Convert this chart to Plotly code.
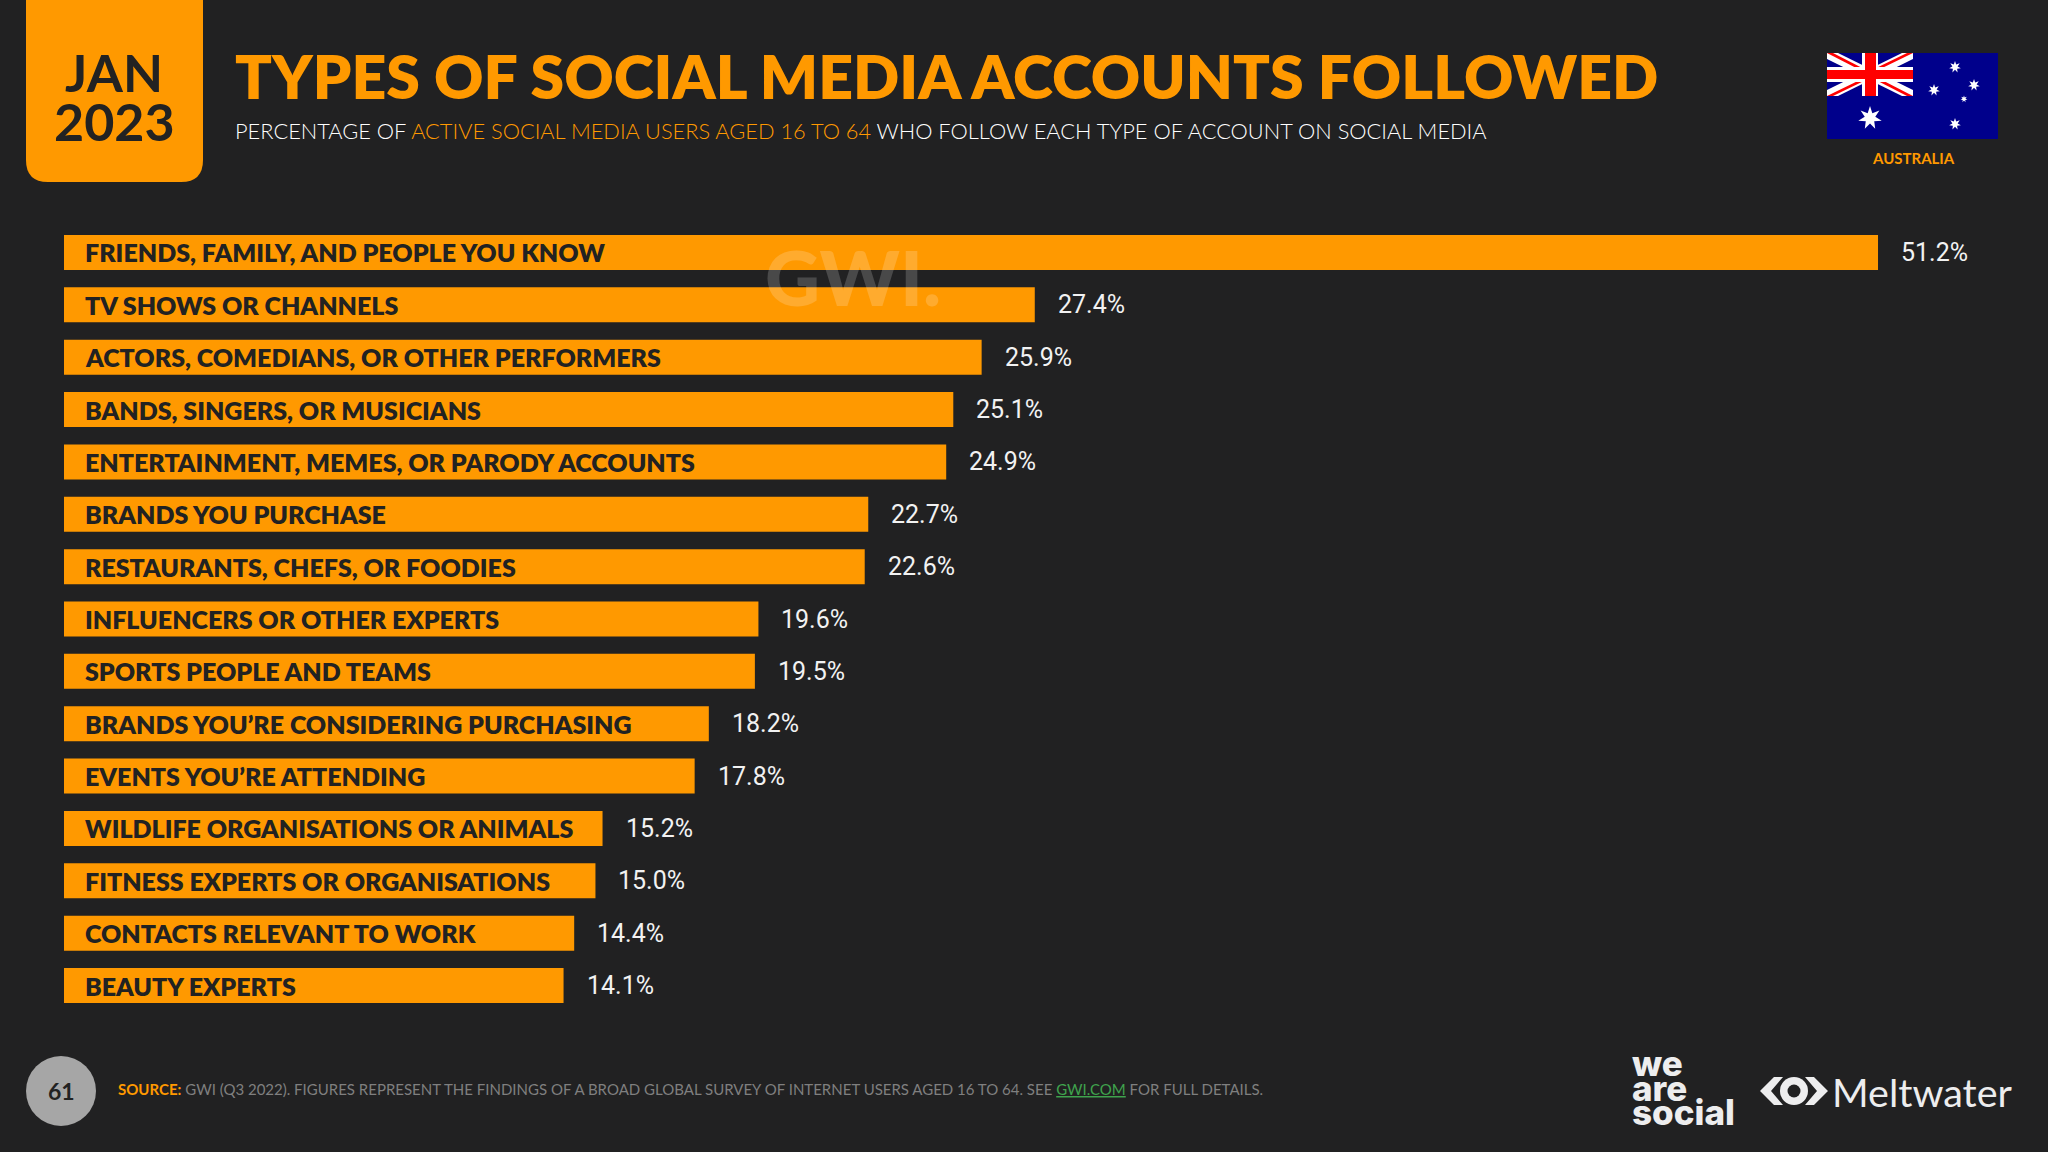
import math
import plotly.graph_objects as go

W = 2048
H = 1152

categories = [
    "FRIENDS, FAMILY, AND PEOPLE YOU KNOW",
    "TV SHOWS OR CHANNELS",
    "ACTORS, COMEDIANS, OR OTHER PERFORMERS",
    "BANDS, SINGERS, OR MUSICIANS",
    "ENTERTAINMENT, MEMES, OR PARODY ACCOUNTS",
    "BRANDS YOU PURCHASE",
    "RESTAURANTS, CHEFS, OR FOODIES",
    "INFLUENCERS OR OTHER EXPERTS",
    "SPORTS PEOPLE AND TEAMS",
    "BRANDS YOU’RE CONSIDERING PURCHASING",
    "EVENTS YOU’RE ATTENDING",
    "WILDLIFE ORGANISATIONS OR ANIMALS",
    "FITNESS EXPERTS OR ORGANISATIONS",
    "CONTACTS RELEVANT TO WORK",
    "BEAUTY EXPERTS",
]
values = [51.2, 27.4, 25.9, 25.1, 24.9, 22.7, 22.6, 19.6, 19.5, 18.2, 17.8, 15.2, 15.0, 14.4, 14.1]

BG = "#212122"
ORANGE = "#FF9900"
DARK = "#222222"
FONT = "Lato"


# pixel position on the page -> paper coordinates
def px(x):
    return x / W


def py(y):
    return 1 - y / H


def note(x, y, text, size, color="#FFFFFF", weight=400, anchor="left", family=FONT):
    return dict(
        xref="paper", yref="paper", x=px(x), y=py(y), text=text, showarrow=False,
        xanchor=anchor, yanchor="middle", borderpad=0,
        font=dict(family=family, size=size, color=color, weight=weight),
    )


def rect(x0, y0, x1, y1, color):
    return dict(type="rect", xref="paper", yref="paper", x0=px(x0), y0=py(y0), x1=px(x1), y1=py(y1),
                fillcolor=color, line=dict(width=0), layer="above")


def poly(points, color):
    path = "M " + " L ".join(f"{px(x):.5f},{py(y):.5f}" for x, y in points) + " Z"
    return dict(type="path", xref="paper", yref="paper", path=path, fillcolor=color,
                line=dict(width=0), layer="above")


def circle(cx, cy, r, color):
    return dict(type="circle", xref="paper", yref="paper", x0=px(cx - r), y0=py(cy - r),
                x1=px(cx + r), y1=py(cy + r), fillcolor=color, line=dict(width=0), layer="above")


def star(cx, cy, r, color="#FFFFFF"):
    pts = []
    for i in range(14):
        a = math.pi * i / 7 - math.pi / 2
        rr = r if i % 2 == 0 else r * 0.45
        pts.append((cx + rr * math.cos(a), cy + rr * math.sin(a)))
    return poly(pts, color)


fig = go.Figure()

fig.add_trace(go.Bar(
    x=values,
    y=categories,
    orientation="h",
    width=0.668,
    marker=dict(color=ORANGE, line=dict(width=0)),
    hoverinfo="skip",
))

annotations = []

# bar labels and values
for cat, val in zip(categories, values):
    annotations.append(dict(
        xref="x", yref="y", x=0, y=cat, text=cat, showarrow=False, xanchor="left", xshift=19,
        font=dict(family=FONT, size=25, color=DARK, weight=800),
    ))
    annotations.append(dict(
        xref="x", yref="y", x=val, y=cat, text=f"{val:.1f}%", showarrow=False, xanchor="left", xshift=21,
        font=dict(family="Roboto", size=25, color="#F2F2F2"),
    ))

# header
annotations += [
    note(114, 72, "JAN", 52, DARK, 700, "center"),
    note(114, 121, "2023", 52, DARK, 700, "center"),
    note(234, 76, "TYPES OF SOCIAL MEDIA ACCOUNTS FOLLOWED", 60.8, ORANGE, 800),
    note(234, 130,
         f'PERCENTAGE OF <span style="color:{ORANGE}">ACTIVE SOCIAL MEDIA USERS AGED 16 TO 64</span>'
         ' WHO FOLLOW EACH TYPE OF ACCOUNT ON SOCIAL MEDIA', 21.8, "#FFFFFF", 300),
    note(1913, 158, "AUSTRALIA", 15, ORANGE, 700, "center"),
    note(853, 276, "GWI.", 76, "rgba(255,255,255,0.18)", 900, "center"),
]

# footer
annotations += [
    note(61, 1091, "61", 23, DARK, 700, "center"),
    note(117, 1089,
         f'<b style="color:{ORANGE}">SOURCE:</b> GWI (Q3 2022). FIGURES REPRESENT THE FINDINGS OF A BROAD GLOBAL '
         'SURVEY OF INTERNET USERS AGED 16 TO 64. SEE <span style="color:#3FA34D"><u>GWI.COM</u></span>'
         ' FOR FULL DETAILS.', 15, "#7F7F7F", 400),
    note(1631, 1063, "we", 35, "#EDEDEE", 800, family="Inter"),
    note(1631, 1088, "are", 35, "#EDEDEE", 800, family="Inter"),
    note(1631, 1112, "social", 35, "#EDEDEE", 800, family="Inter"),
    note(1831, 1091, "Meltwater", 39.5, "#EDEDEE", 400),
]

shapes = [
    # date tab
    dict(type="path", xref="paper", yref="paper", layer="above", fillcolor=ORANGE, line=dict(width=0),
         path=f"M {px(26)},{py(0)} L {px(203)},{py(0)} L {px(203)},{py(160)} "
              f"Q {px(203)},{py(182)} {px(181)},{py(182)} L {px(48)},{py(182)} "
              f"Q {px(26)},{py(182)} {px(26)},{py(160)} Z"),
    # flag field
    rect(1827, 53, 1998, 139, "#00008B"),
    # union jack
    poly([(1827, 53), (1838, 53), (1913, 90), (1913, 96), (1902, 96), (1827, 59)], "#FFFFFF"),
    poly([(1913, 53), (1902, 53), (1827, 90), (1827, 96), (1838, 96), (1913, 59)], "#FFFFFF"),
    poly([(1827, 53), (1833, 53), (1870, 72), (1864, 72)], "#FF0000"),
    poly([(1913, 96), (1907, 96), (1870, 77), (1876, 77)], "#FF0000"),
    poly([(1913, 53), (1907, 53), (1870, 71), (1876, 71)], "#FF0000"),
    poly([(1827, 96), (1833, 96), (1870, 78), (1864, 78)], "#FF0000"),
    rect(1862, 53, 1878, 96, "#FFFFFF"),
    rect(1827, 67, 1913, 82, "#FFFFFF"),
    rect(1865, 53, 1876, 96, "#FF0000"),
    rect(1827, 70, 1913, 79, "#FF0000"),
    # stars
    star(1870, 118, 12),
    star(1955, 67, 6),
    star(1934, 90, 6),
    star(1974, 85, 6),
    star(1964, 99, 3.5),
    star(1955, 124, 6),
    # page number
    circle(61, 1091, 35, "#A6A6A6"),
    # meltwater eye
    poly([(1760, 1091), (1774, 1077), (1783, 1077), (1771, 1091), (1783, 1105), (1774, 1105)], "#EDEDEE"),
    poly([(1828, 1091), (1814, 1077), (1805, 1077), (1817, 1091), (1805, 1105), (1814, 1105)], "#EDEDEE"),
    circle(1794, 1091, 14, "#EDEDEE"),
    circle(1794, 1091, 6.5, BG),
]

fig.update_layout(
    width=W,
    height=H,
    margin=dict(l=0, r=0, t=0, b=0, pad=0),
    paper_bgcolor=BG,
    plot_bgcolor=BG,
    showlegend=False,
    annotations=annotations,
    shapes=shapes,
    xaxis=dict(domain=[px(64), 1], range=[0, (W - 64) / 35.43], visible=False, fixedrange=True),
    yaxis=dict(domain=[py(1011.7), py(226.3)], autorange="reversed", visible=False, fixedrange=True,
               type="category", categoryorder="array", categoryarray=categories),
)

# drop the browser's default page margin so the figure fills the window
fig.write_html(
    "out.html",
    config=dict(displayModeBar=False),
    post_script=f"document.body.style.margin='0';document.body.style.background='{BG}';",
)
